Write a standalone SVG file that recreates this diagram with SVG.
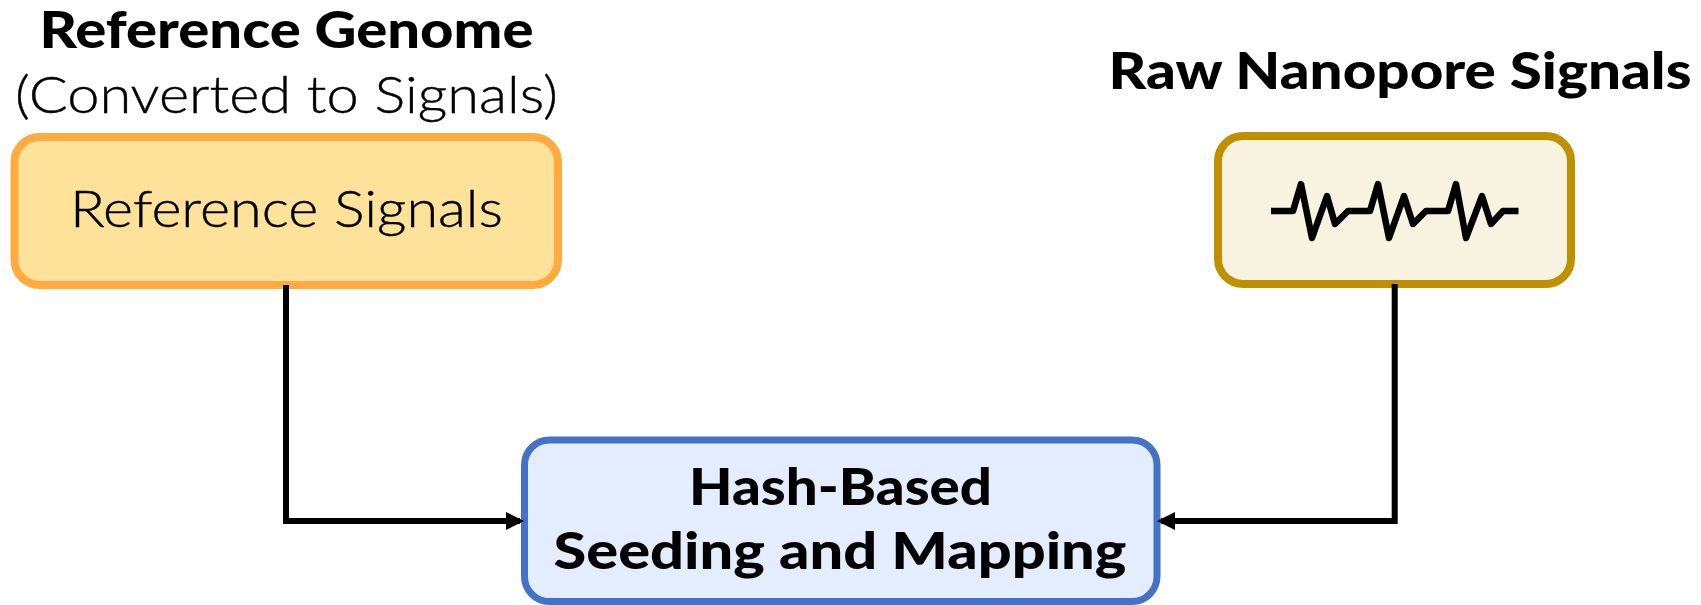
<svg xmlns="http://www.w3.org/2000/svg" width="1701" height="605" viewBox="0 0 1701 605">
<style>
text{font-family:"Lato","Open Sans",sans-serif;font-size:52px;fill:#000}
.b{font-weight:900}
.l{font-weight:300;stroke:#000;stroke-width:.4}
.box{stroke-width:7}
.wire{fill:none;stroke:#000;stroke-width:6;stroke-linejoin:miter}
</style>
<defs>
<marker id="arrow" markerUnits="userSpaceOnUse" markerWidth="18" markerHeight="18" refX="14" refY="9" orient="auto"><path d="M0 0L18 9L0 18Z" fill="#000"/></marker>
</defs>
<g id="label-reference-genome">
<text class="b" x="39.5" y="48" textLength="494" lengthAdjust="spacingAndGlyphs">Reference Genome</text>
<text class="l" x="15" y="113" textLength="543" lengthAdjust="spacingAndGlyphs">(Converted to Signals)</text>
</g>
<g id="label-raw-signals">
<text class="b" x="1108.5" y="89" textLength="583" lengthAdjust="spacingAndGlyphs">Raw Nanopore Signals</text>
</g>
<g id="node-reference-signals">
<rect class="box" x="14.5" y="137" width="543.5" height="148" rx="25" fill="#FFE299" stroke="#FFAB40" style="stroke-width:8"/>
<text class="l" x="70" y="227" textLength="433" lengthAdjust="spacingAndGlyphs">Reference Signals</text>
</g>
<g id="node-raw-signals">
<rect class="box" x="1218" y="136" width="353" height="148" rx="25" fill="#F7F3E0" stroke="#BF9000" style="stroke-width:8"/>
<path d="M1271 211H1293L1301 184L1312 238L1327 196L1335 224L1348 211H1370L1378 184L1389 238L1404 196L1413 224L1426 211H1448L1456 184L1466 238L1482 196L1491 224L1503 211H1518.5" fill="none" stroke="#000" stroke-width="6.5" stroke-linejoin="round"/>
</g>
<g id="node-hash-mapping">
<rect class="box" x="524.5" y="440" width="632.5" height="161.5" rx="25" fill="#E3EDFD" stroke="#4472C4"/>
<text class="b" x="689" y="505" textLength="303" lengthAdjust="spacingAndGlyphs">Hash-Based</text>
<text class="b" x="553.5" y="569" textLength="573" lengthAdjust="spacingAndGlyphs">Seeding and Mapping</text>
</g>
<g id="connectors">
<path class="wire" d="M286 285V521H520" marker-end="url(#arrow)"/>
<path class="wire" d="M1394.7 284V521H1161" marker-end="url(#arrow)"/>
</g>
</svg>
